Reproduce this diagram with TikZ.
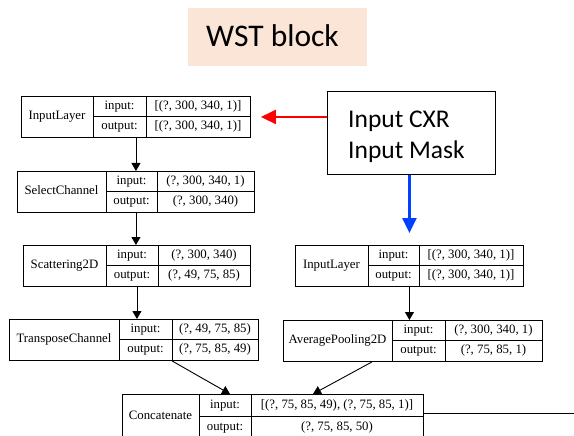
\documentclass[tikz,border=0pt]{standalone}
\usepackage{fontspec}
\setmainfont{Liberation Serif}
\newfontfamily\calib{Carlito}
\usetikzlibrary{arrows.meta,calc}
\definecolor{xblue}{RGB}{0,64,255}
\definecolor{wstfill}{RGB}{251,229,214}
\tikzset{
  kbox/.style={draw=black, line width=0.9pt, inner sep=0pt},
  kline/.style={draw=black, line width=0.9pt},
  ktext/.style={inner sep=0pt, font=\fontsize{12.8}{14}\selectfont, text height=9pt, text depth=3pt},
  karrow/.style={draw=black, line width=0.9pt, -{Triangle[length=8pt,width=9pt]}},
  callout/.style={draw=black, line width=1.2pt, inner sep=0pt, minimum width=168pt, minimum height=83pt},
  bigtext/.style={inner sep=0pt, font=\calib\fontsize{25.5}{30}\selectfont},
  wsttext/.style={inner sep=0pt, font=\calib\fontsize{31.5}{36}\selectfont},
  wstbox/.style={fill=wstfill, draw=none, inner sep=0pt, minimum width=179pt, minimum height=58pt},
  redarrow/.style={draw=red, line width=2.3pt, -{Triangle[length=15pt,width=14pt,fill=red]}},
  bluearrow/.style={draw=xblue, line width=2.3pt, -{Triangle[length=15pt,width=14pt,fill=xblue]}},
}
\def\kh{41}
\def\kr{20.5}
\newcommand{\klayer}[9]{%
  \node[kbox, anchor=north west, minimum width={#5-#2}, minimum height=\kh] (#1) at (#2,#6) {};
  \draw[kline] (#3,#6) -- (#3,#6+\kh);
  \draw[kline] (#4,#6) -- (#4,#6+\kh);
  \draw[kline] (#3,#6+\kr) -- (#5,#6+\kr);
  \node[ktext] (#1-t) at ({(#2+#3)/2},#6+\kh/2) {#7};
  \node[ktext] (#1-il) at ({(#3+#4)/2},#6+\kr/2) {input:};
  \node[ktext] (#1-iv) at ({(#4+#5)/2},#6+\kr/2) {#8};
  \node[ktext] (#1-ol) at ({(#3+#4)/2},#6+\kr*1.5) {output:};
  \node[ktext] (#1-ov) at ({(#4+#5)/2},#6+\kr*1.5) {#9};
}
\begin{document}
\begin{tikzpicture}[x=1pt,y=-1pt]
\useasboundingbox (0,0) rectangle (574,436);
% title
\node[wstbox, anchor=north west] (wst) at (188,8) {};
\node[wsttext, anchor=base west] (wst-t) at (206,47) {WST block};
% callout
\node[callout, anchor=north west] (cxr) at (327,91) {};
\node[bigtext, anchor=base west] (cxr-1) at (348,128) {Input CXR};
\node[bigtext, anchor=base west] (cxr-2) at (348,158) {Input Mask};
% layers
\klayer{il1}{21}{93}{146}{250}{96}{InputLayer}{[(?, 300, 340, 1)]}{[(?, 300, 340, 1)]}
\klayer{sc}{17}{106}{157}{254}{171}{SelectChannel}{(?, 300, 340, 1)}{(?, 300, 340)}
\klayer{sd}{23}{106}{158}{250}{245}{Scattering2D}{(?, 300, 340)}{(?, 49, 75, 85)}
\klayer{tc}{9}{119}{172}{258}{319}{TransposeChannel}{(?, 49, 75, 85)}{(?, 75, 85, 49)}
\klayer{il2}{295}{368}{419}{523}{245}{InputLayer}{[(?, 300, 340, 1)]}{[(?, 300, 340, 1)]}
\klayer{ap}{283}{392}{445}{542}{320}{AveragePooling2D}{(?, 300, 340, 1)}{(?, 75, 85, 1)}
\def\kh{44}\def\kr{22}
\klayer{cc}{122}{199}{251}{423}{394}{Concatenate}{[(?, 75, 85, 49), (?, 75, 85, 1)]}{(?, 75, 85, 50)}
% connectors
\draw[karrow] (il1.south) -- (il1.south |- sc.north);
\draw[karrow] (sc.south) -- (sc.south |- sd.north);
\draw[karrow] (sd.south) -- (sd.south |- tc.north);
\draw[karrow] (il2.south) -- (il2.south |- ap.north);
\draw[karrow] ($(tc.south west)+(163,0)$) -- ($(cc.north west)+(108,0)$);
\draw[karrow] ($(ap.south west)+(89,0)$) -- ($(cc.north west)+(191,0)$);
\coordinate (rend) at (574,413);
\draw[kline] (cc.east |- rend) -- (rend);
% input arrows
\draw[redarrow] (cxr.west |- il1.east) -- ($(il1.east)+(10,0)$);
\draw[bluearrow] (cxr.south -| il2.north) -- ($(il2.north)+(0,-12)$);
\end{tikzpicture}
\end{document}
